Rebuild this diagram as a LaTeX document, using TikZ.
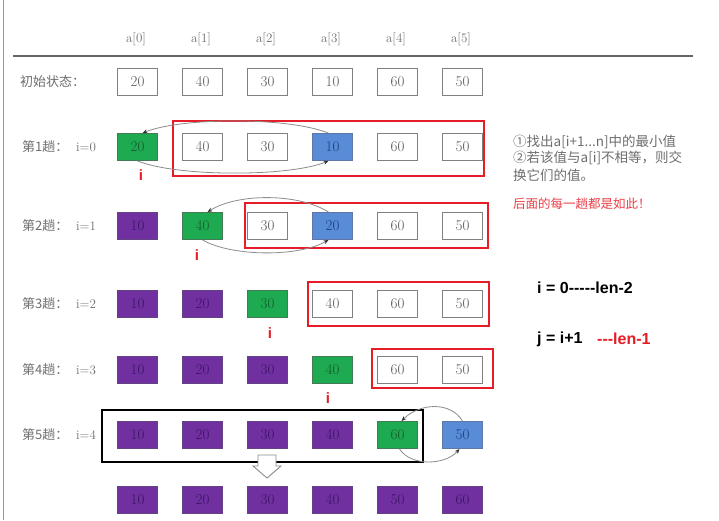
\documentclass[tikz,border=0pt]{standalone}
\usepackage{fontspec}
\newfontfamily\cjk{Noto Sans CJK SC}
\newfontfamily\arialf{Liberation Sans}
\usetikzlibrary{arrows.meta}
\definecolor{gfill}{RGB}{30,170,80}
\definecolor{gtext}{RGB}{20,90,45}
\definecolor{pfill}{RGB}{112,48,160}
\definecolor{ptext}{RGB}{60,20,100}
\definecolor{bfill}{RGB}{88,140,215}
\definecolor{btext}{RGB}{30,60,125}
\definecolor{rline}{RGB}{230,28,38}
\definecolor{gtxt}{RGB}{110,110,110}
\begin{document}
\begin{tikzpicture}[x=1pt,y=-1pt,
  cell/.style={minimum width=40pt,minimum height=27pt,inner sep=0pt,font=\fontsize{15}{18}\selectfont,line width=0.9pt},
  boxw/.style={cell,draw=black!50,fill=white,text=black!65},
  boxg/.style={cell,draw=gtext!80,fill=gfill,text=gtext},
  boxp/.style={cell,draw=ptext!80,fill=pfill,text=ptext},
  boxb/.style={cell,draw=btext!70,fill=bfill,text=btext},
  lbl/.style={anchor=west,text=gtxt,font=\cjk\fontsize{13}{15}\selectfont,inner sep=0pt},
  ilbl/.style={anchor=west,text=gtxt,font=\fontsize{13}{15}\selectfont,inner sep=0pt},
  hdr/.style={text=gtxt,font=\fontsize{13}{15}\selectfont,inner sep=0pt},
  redi/.style={text=rline,font=\arialf\bfseries\fontsize{15}{17}\selectfont,inner sep=0pt},
  note/.style={anchor=west,inner sep=0pt,font=\cjk\fontsize{13.5}{15}\selectfont},
  swap/.style={draw=black!45,line width=0.8pt,-{Stealth[length=5pt,width=4pt,color=black!80]}},
  frame/.style={draw=rline,line width=2.8pt}]
\useasboundingbox (0,0) rectangle (719,520);
\fill[white] (0,0) rectangle (719,520);
\draw[black!40,line width=1pt] (3,0) -- (3,520);
% header
\foreach \c in {0,...,5}{
  \node[hdr] (h\c) at ({136+65*\c},39) {a[\c]};
}
\draw[black!60,line width=2.2pt] (13,56) -- (693,56);
% rows
\foreach \r/\y/\lst in {
  0/82/{w/20,w/40,w/30,w/10,w/60,w/50},
  1/147/{g/20,w/40,w/30,b/10,w/60,w/50},
  2/226/{p/10,g/40,w/30,b/20,w/60,w/50},
  3/304/{p/10,p/20,g/30,w/40,w/60,w/50},
  4/370/{p/10,p/20,p/30,g/40,w/60,w/50},
  5/435/{p/10,p/20,p/30,p/40,g/60,b/50},
  6/500/{p/10,p/20,p/30,p/40,p/50,p/60}}{
  \foreach \s/\v [count=\c from 0] in \lst {
    \node[box\s] (r\r-\c) at ({137.5+65*\c},\y) {\v};
  }
}
% row labels
\node[lbl] (l0) at (20,82) {初始状态：};
\foreach \r/\y in {1/147,2/226,3/304,4/370,5/435}{
  \pgfmathtruncatemacro{\ii}{\r-1}
  \node[lbl] (l\r) at (22,\y) {第\r 趟：};
  \node[ilbl] (i\r) at (76,\y) {i=\ii};
}
% frames
\draw[frame] (173,121) rectangle (484,176);
\draw[frame] (245,203) rectangle (488,248);
\draw[frame] (308,282) rectangle (489,326);
\draw[frame] (372,349) rectangle (493,388);
\draw[black,line width=2.8pt] (102,410) rectangle (423,462);
% swap arrows
\draw[swap] ([xshift=-4pt]r1-3.north) .. controls +(-40,-16) and +(40,-16) .. ([xshift=5pt]r1-0.north);
\draw[swap] (r1-0.south) .. controls +(40,16) and +(-40,16) .. ([xshift=-4pt]r1-3.south);
\draw[swap] ([xshift=-4pt]r2-3.north) .. controls +(-30,-19) and +(30,-19) .. ([xshift=5pt]r2-1.north);
\draw[swap] (r2-1.south) .. controls +(30,17) and +(-30,17) .. ([xshift=-4pt]r2-3.south);
\draw[swap] (r5-5.north) .. controls +(-12,-20) and +(18,-18) .. ([xshift=4pt]r5-4.north);
\draw[swap] ([xshift=2pt]r5-4.south) .. controls +(12,18) and +(-14,16) .. ([xshift=-3pt]r5-5.south);
% hollow down arrow
\draw[black!45,fill=white,line width=0.9pt] (258,455) -- (276,455) -- (276,466) -- (281,466) -- (267,478) -- (253,466) -- (258,466) -- cycle;
% red i markers
\node[redi] (m1) at (141,175) {i};
\node[redi] (m2) at (197,255) {i};
\node[redi] (m3) at (270,333) {i};
\node[redi] (m4) at (328,398) {i};
% notes
\node[note,text=gtxt] (n1) at (513,142) {①找出a[i+1...n]中的最小值};
\node[note,text=gtxt] (n2) at (513,158) {②若该值与a[i]不相等，则交};
\node[note,text=gtxt] (n3) at (513,175) {换它们的值。};
\node[note,text=rline!85,font=\cjk\fontsize{12.5}{15}\selectfont] (n4) at (513,204) {后面的每一趟都是如此！};
\node[anchor=west,inner sep=0pt,font=\arialf\bfseries\fontsize{16}{18}\selectfont] (f1) at (537,288) {i = 0-----len-2};
\node[anchor=west,inner sep=0pt,font=\arialf\bfseries\fontsize{16}{18}\selectfont] (f2) at (537,339) {j = i+1};
\node[anchor=west,inner sep=0pt,text=rline,font=\arialf\bfseries\fontsize{16}{18}\selectfont] (f3) at (597,339) {---len-1};
\end{tikzpicture}
\end{document}
